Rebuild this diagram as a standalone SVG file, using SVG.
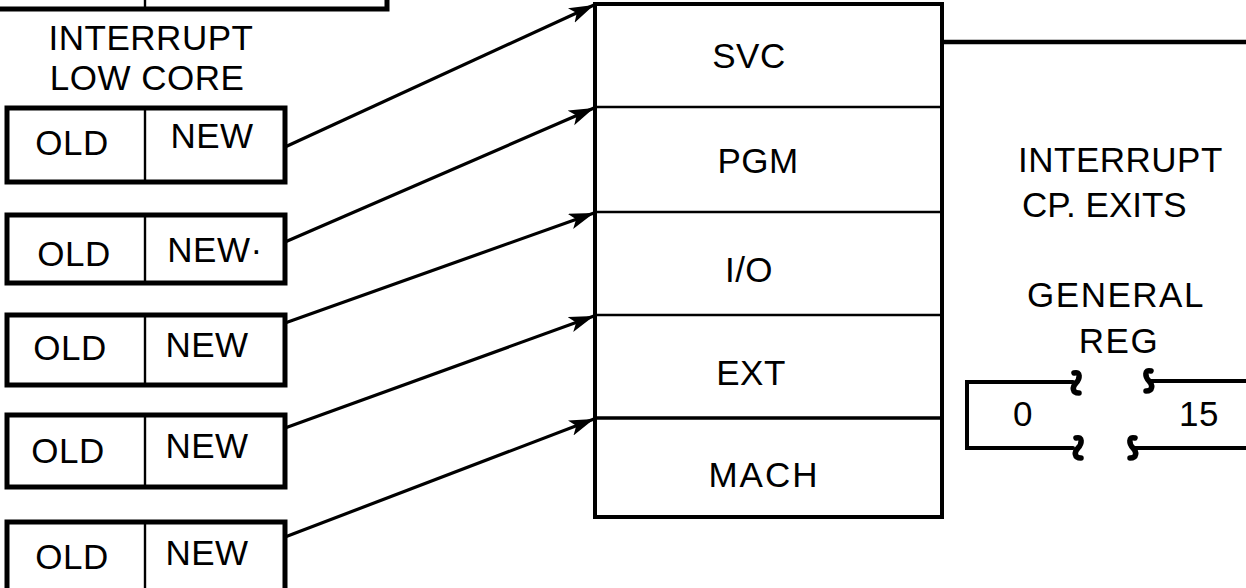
<svg xmlns="http://www.w3.org/2000/svg" width="1246" height="588" viewBox="0 0 1246 588">
<style>
text{font-family:"Liberation Sans",Arial,sans-serif;font-size:35px;letter-spacing:0.5px;fill:#000}
.m{text-anchor:middle}
.box{fill:none;stroke:#000;stroke-width:5}
.div{stroke:#000;stroke-width:2.4}
.stk{fill:none;stroke:#000;stroke-width:4}
.conn{stroke:#000;stroke-width:3.2;fill:none}
.brk{fill:none;stroke:#000;stroke-width:4;stroke-linecap:round}
.sqz{fill:none;stroke:#000;stroke-width:5.5;stroke-linecap:round}
</style>
<defs>
<marker id="ah" markerUnits="userSpaceOnUse" markerWidth="28" markerHeight="18" refX="25" refY="8" orient="auto">
<path d="M0,0 L25,8 L0,16 L6,8 z" fill="#000"/>
</marker>
<path id="sq" d="M-2,-10 C5,-12 4,-4 0,0 C-4,4 -4,10 3,10"/>
</defs>
<rect width="1246" height="588" fill="#fff"/>

<g id="top-partial">
<path class="box" d="M0,9 H387 V-4"/>
<line class="div" x1="145" y1="0" x2="145" y2="9"/>
</g>

<g id="label-low-core">
<text class="m" x="151" y="50">INTERRUPT</text>
<text class="m" x="147" y="90">LOW CORE</text>
</g>

<g id="psw1">
<rect class="box" x="7" y="108" width="278" height="74"/>
<line class="div" x1="145" y1="108" x2="145" y2="182"/>
<text class="m" x="72" y="155">OLD</text>
<text class="m" x="212" y="148">NEW</text>
</g>
<g id="psw2">
<rect class="box" x="7" y="215" width="278" height="68"/>
<line class="div" x1="145" y1="215" x2="145" y2="283"/>
<text class="m" x="74" y="266">OLD</text>
<text class="m" x="215" y="262">NEW·</text>
</g>
<g id="psw3">
<rect class="box" x="7" y="315" width="278" height="70"/>
<line class="div" x1="145" y1="315" x2="145" y2="385"/>
<text class="m" x="70" y="360">OLD</text>
<text class="m" x="207" y="357">NEW</text>
</g>
<g id="psw4">
<rect class="box" x="7" y="415" width="278" height="72"/>
<line class="div" x1="145" y1="415" x2="145" y2="487"/>
<text class="m" x="68" y="463">OLD</text>
<text class="m" x="207" y="458">NEW</text>
</g>
<g id="psw5">
<path class="box" d="M7,600 V522 H285 V600"/>
<line class="div" x1="145" y1="522" x2="145" y2="600"/>
<text class="m" x="72" y="569">OLD</text>
<text class="m" x="207" y="565">NEW</text>
</g>

<g id="stack">
<rect class="stk" x="595" y="4" width="347" height="513"/>
<line class="div" x1="595" y1="107" x2="942" y2="107"/>
<line class="div" x1="595" y1="212" x2="942" y2="212"/>
<line class="div" x1="595" y1="315" x2="942" y2="315"/>
<line class="div" x1="595" y1="418" x2="942" y2="418" style="stroke-width:3.4"/>
<text class="m" x="749" y="68">SVC</text>
<text class="m" x="758" y="173">PGM</text>
<text class="m" x="749" y="282">I/O</text>
<text class="m" x="751" y="385">EXT</text>
<text class="m" x="764" y="487" style="letter-spacing:2px">MACH</text>
</g>

<g id="label-cp-exits">
<text x="1018" y="172">INTERRUPT</text>
<text x="1022" y="217" style="letter-spacing:0">CP. EXITS</text>
</g>

<g id="general-reg">
<text class="m" x="1116" y="307" style="letter-spacing:1.5px">GENERAL</text>
<text class="m" x="1119" y="353" style="letter-spacing:1.5px">REG</text>
<path class="brk" d="M1073,382 H967 V448 H1073"/>
<path class="brk" d="M1150,381 H1246"/>
<path class="brk" d="M1135,448 H1246"/>
<use href="#sq" class="sqz" transform="translate(1076,383)"/>
<use href="#sq" class="sqz" transform="translate(1149,381) scale(-1,1)"/>
<use href="#sq" class="sqz" transform="translate(1078,448)"/>
<use href="#sq" class="sqz" transform="translate(1133,448) scale(-1,1)"/>
<text class="m" x="1023" y="426">0</text>
<text class="m" x="1199" y="426">15</text>
</g>

<g id="connectors">
<line class="conn" x1="285" y1="147" x2="594" y2="5" marker-end="url(#ah)"/>
<line class="conn" x1="285" y1="242" x2="594" y2="108" marker-end="url(#ah)"/>
<line class="conn" x1="285" y1="323" x2="594" y2="213" marker-end="url(#ah)"/>
<line class="conn" x1="285" y1="428" x2="594" y2="316" marker-end="url(#ah)"/>
<line class="conn" x1="285" y1="537" x2="594" y2="419" marker-end="url(#ah)"/>
<line class="stk" x1="942" y1="42" x2="1246" y2="42" style="stroke-width:4.5"/>
</g>
</svg>
